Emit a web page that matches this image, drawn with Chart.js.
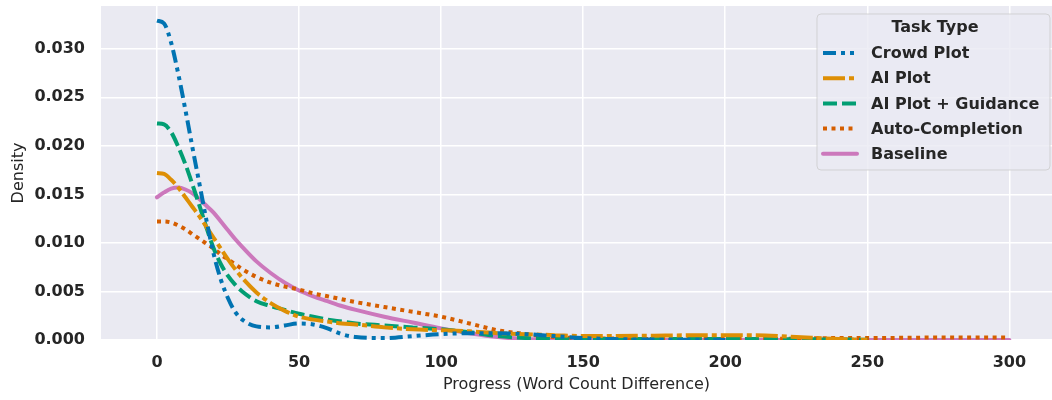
<!DOCTYPE html>
<html>
<head>
<meta charset="utf-8">
<script src="https://cdn.jsdelivr.net/npm/chart.js@4.4.1/dist/chart.umd.min.js"></script>
<style>
  html, body { margin: 0; padding: 0; background: #fff; }
  #wrap { width: 1052px; height: 400px; }
</style>
</head>
<body>
<div id="wrap"><canvas id="kde" width="1052" height="400"></canvas></div>
<script>
'use strict';

// word count difference grid the curves were read at
var progress = [0, 2.5, 5, 7.5, 10, 12.5, 15, 17.5, 20, 22.5, 25, 27.5, 30, 35, 40, 45, 50, 55, 60, 65, 70,
  80, 90, 100, 110, 120, 130, 140, 150, 160, 175, 200, 210, 225, 240, 250, 275, 300];

var crowdPlot = [0.0329, 0.0326, 0.0306, 0.0274, 0.0237, 0.0198, 0.0160, 0.0122, 0.0088, 0.0062, 0.0043, 0.0029, 0.0021,
  0.0014, 0.0013, 0.0015, 0.0017, 0.0016, 0.0012, 0.0006, 0.0003, 0.0002, 0.0004, 0.0006, 0.0007, 0.0007, 0.0006,
  0.0004, 0.0002, 0.0001, 0.00004, 0.00001, null, null, null, null, null, null];
var aiPlot = [0.0172, 0.0171, 0.0165, 0.0157, 0.0147, 0.0137, 0.0127, 0.0116, 0.0105, 0.0094, 0.0083, 0.0073, 0.0064,
  0.0049, 0.0038, 0.0030, 0.0024, 0.0021, 0.0019, 0.0017, 0.0016, 0.0013, 0.0011, 0.0010, 0.0009, 0.0007, 0.0006,
  0.0005, 0.0004, 0.0004, 0.00045, 0.0005, 0.0005, 0.0003, 0.0001, 0.00002, null, null];
var aiGuidance = [0.0223, 0.0222, 0.0214, 0.0199, 0.0181, 0.0160, 0.0138, 0.0115, 0.0094, 0.0078, 0.0066, 0.0057, 0.0050,
  0.0040, 0.0035, 0.0031, 0.0027, 0.0024, 0.0021, 0.0019, 0.0017, 0.0015, 0.0013, 0.0011, 0.0008, 0.0004, 0.0002,
  0.0001, 0.0001, 0.0001, 0.0001, 0.0001, 0.0001, 0.00008, 0.00005, 0.00002, null, null];
var autoCompletion = [0.0122, 0.0122, 0.0121, 0.0118, 0.0114, 0.0109, 0.0104, 0.0099, 0.0094, 0.0088, 0.0083, 0.0078, 0.0073,
  0.0065, 0.0059, 0.0055, 0.0052, 0.0048, 0.0045, 0.0042, 0.0039, 0.0034, 0.0029, 0.0024, 0.0017, 0.0010, 0.0006,
  0.0003, 0.0002, 0.00015, 0.0001, 0.0001, 0.0001, 0.00015, 0.0002, 0.0002, 0.00025, 0.00025];
var baseline = [0.0147, 0.0152, 0.0156, 0.0157, 0.0155, 0.0151, 0.0145, 0.0138, 0.0131, 0.0122, 0.0113, 0.0104, 0.0096,
  0.0081, 0.0069, 0.0059, 0.0051, 0.0045, 0.0040, 0.0035, 0.0031, 0.0024, 0.0018, 0.0012, 0.0007, 0.0003, 0.0001,
  0.00005, 0.00003, 0.00002, 0.00001, 0.00001, 0.00001, 0.00001, 0.00001, 0.00001, 0.00001, 0.00001];

var taskTypes = ['Crowd Plot', 'AI Plot', 'AI Plot + Guidance', 'Auto-Completion', 'Baseline'];
var xTicks = [0, 50, 100, 150, 200, 250, 300];
var yTicks = [0, 0.005, 0.010, 0.015, 0.020, 0.025, 0.030];

var FONT = 'DejaVu Sans';
var INK = '#262626';

function toPoints(vals) {
  var pts = [];
  for (var i = 0; i < progress.length; i++) {
    if (vals[i] !== null) pts.push({ x: progress[i], y: vals[i] });
  }
  return pts;
}

var styles = [
  { color: '#0173b2', dash: [13, 5, 4, 5, 4, 5], cap: 'butt' },
  { color: '#de8f05', dash: [22, 4, 5, 4], cap: 'butt' },
  { color: '#029e73', dash: [14, 5], cap: 'butt' },
  { color: '#d55e00', dash: [4, 4.5], cap: 'butt' },
  { color: '#cc78bc', dash: [], cap: 'round' }
];
var series = [crowdPlot, aiPlot, aiGuidance, autoCompletion, baseline];

var datasets = series.map(function(vals, i) {
  return {
    label: taskTypes[i],
    data: toPoints(vals),
    borderColor: styles[i].color,
    borderWidth: 4,
    borderDash: styles[i].dash,
    borderCapStyle: styles[i].cap,
    pointRadius: 0,
    fill: false,
    cubicInterpolationMode: 'monotone'
  };
});

// grey plot background, seaborn style
var plotBg = {
  id: 'plotBg',
  beforeDraw: function(chart) {
    var a = chart.chartArea, ctx = chart.ctx;
    ctx.save();
    ctx.fillStyle = '#fff';
    ctx.fillRect(0, 0, chart.width, chart.height);
    ctx.fillStyle = '#eaeaf2';
    ctx.fillRect(a.left, a.top, a.right - a.left, a.bottom - a.top);
    ctx.restore();
  }
};

// legend box sitting inside the plot, top right
var taskLegend = {
  id: 'taskLegend',
  afterDatasetsDraw: function(chart) {
    var ctx = chart.ctx;
    var left = 817, top = 14, right = 1050, bottom = 170;
    ctx.save();
    ctx.beginPath();
    ctx.roundRect(left, top, right - left, bottom - top, 4);
    ctx.fillStyle = 'rgba(234,234,242,0.8)';
    ctx.fill();
    ctx.strokeStyle = 'rgba(204,204,204,0.8)';
    ctx.lineWidth = 1;
    ctx.stroke();

    ctx.fillStyle = INK;
    ctx.textBaseline = 'middle';
    ctx.textAlign = 'center';
    ctx.font = 'bold 16px "' + FONT + '"';
    ctx.fillText('Task Type', 935, 28);

    ctx.textAlign = 'left';
    for (var i = 0; i < taskTypes.length; i++) {
      var y = 53 + i * 25.2;
      ctx.beginPath();
      ctx.setLineDash(styles[i].dash);
      ctx.lineCap = styles[i].cap;
      ctx.strokeStyle = styles[i].color;
      ctx.lineWidth = 4;
      if (styles[i].cap === 'round') {
        ctx.moveTo(823, y); ctx.lineTo(857, y);
      } else {
        ctx.moveTo(823, y); ctx.lineTo(856, y);
      }
      ctx.stroke();
      ctx.setLineDash([]);
      ctx.fillStyle = INK;
      ctx.fillText(taskTypes[i], 871, y + 1);
    }
    ctx.restore();
  }
};

var tickFont = { family: FONT, size: 16, weight: 'bold' };
var titleFont = { family: FONT, size: 16, weight: 'normal' };

new Chart(document.getElementById('kde').getContext('2d'), {
  type: 'line',
  data: { datasets: datasets },
  plugins: [plotBg, taskLegend],
  options: {
    responsive: false,
    animation: false,
    devicePixelRatio: 1,
    layout: { padding: { top: 6, right: 0, left: 0, bottom: 0 } },
    plugins: { legend: { display: false }, tooltip: { enabled: false } },
    scales: {
      x: {
        type: 'linear',
        min: -19.7,
        max: 315,
        afterBuildTicks: function(s) { s.ticks = xTicks.map(function(v) { return { value: v }; }); },
        afterFit: function(s) { s.height = 60; s.paddingLeft = 0; s.paddingRight = 0; },
        grid: { color: '#ffffff', lineWidth: 1.5, drawTicks: false },
        border: { display: false },
        ticks: { font: tickFont, color: INK, padding: 13, maxRotation: 0 },
        title: { display: true, text: 'Progress (Word Count Difference)', font: titleFont, color: INK, padding: { top: 0, bottom: 6 } }
      },
      y: {
        type: 'linear',
        min: 0,
        max: 0.0344,
        afterBuildTicks: function(s) { s.ticks = yTicks.map(function(v) { return { value: v }; }); },
        afterFit: function(s) { s.width = 101; s.paddingTop = 0; s.paddingBottom = 0; },
        grid: { color: '#ffffff', lineWidth: 1.5, drawTicks: false },
        border: { display: false },
        ticks: {
          font: tickFont, color: INK, padding: 16,
          callback: function(v) { return Number(v).toFixed(3); }
        },
        title: { display: true, text: 'Density', font: titleFont, color: INK, padding: { top: 9, bottom: 9 } }
      }
    }
  }
});
</script>
</body>
</html>
